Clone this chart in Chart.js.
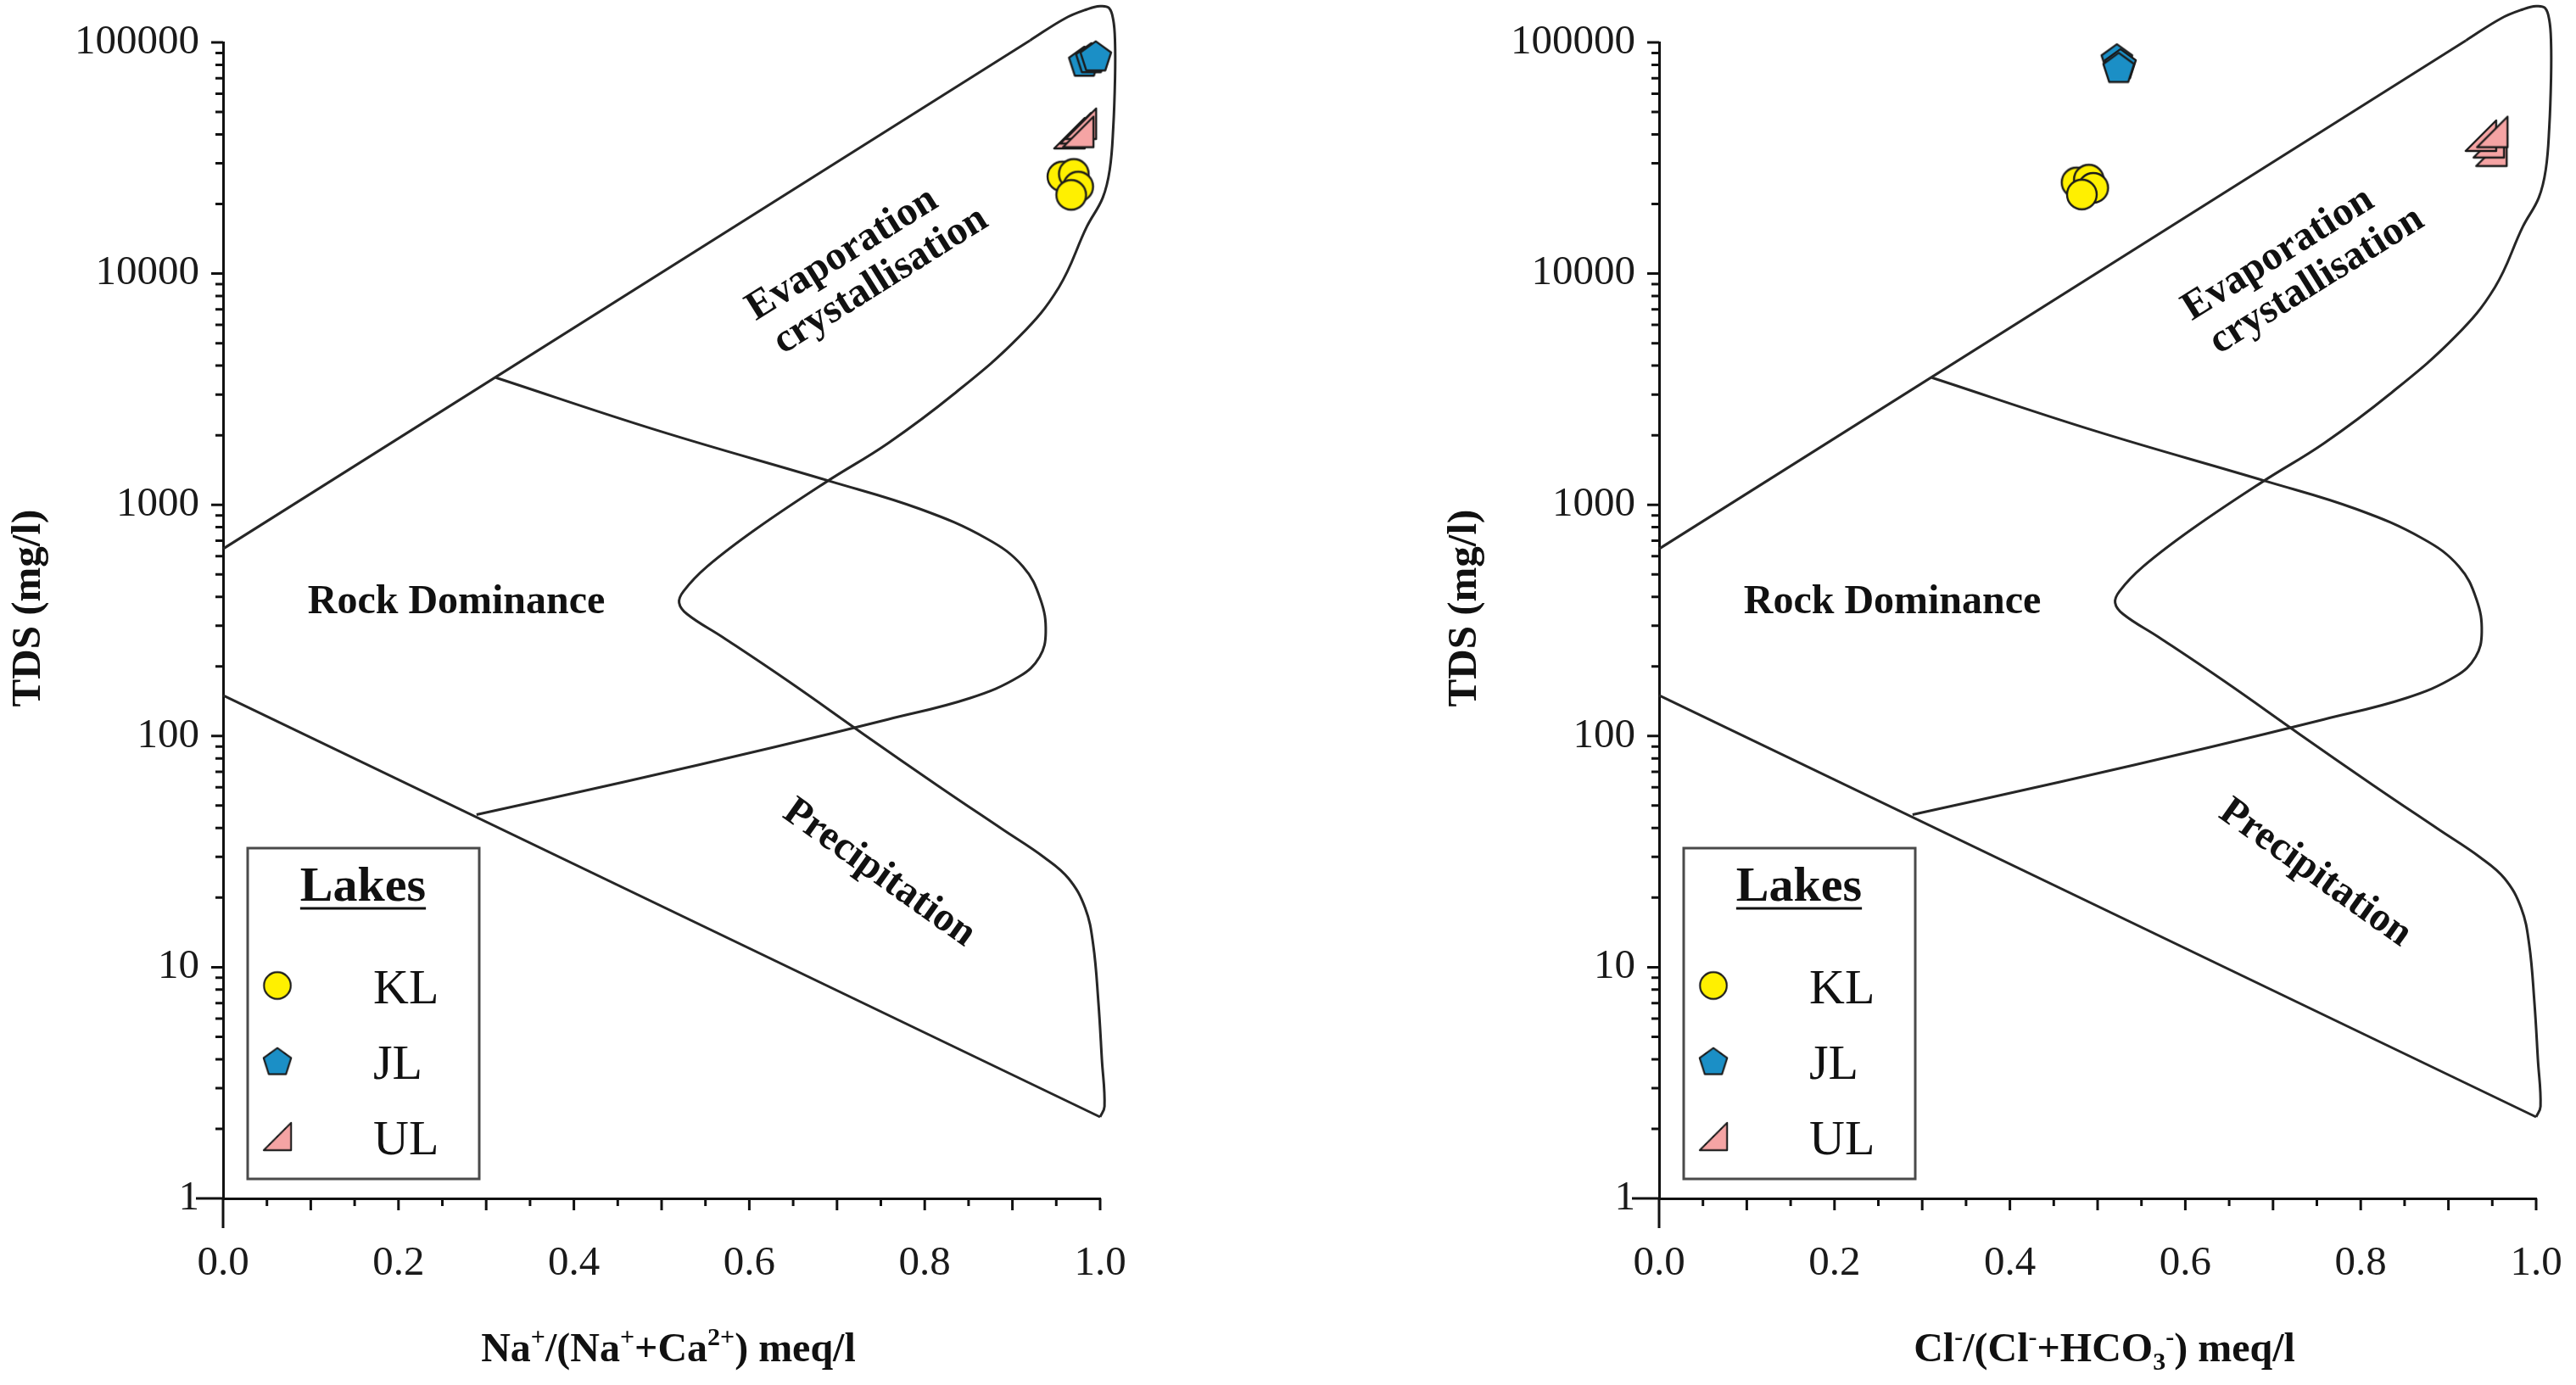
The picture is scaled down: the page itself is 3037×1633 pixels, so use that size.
<!DOCTYPE html>
<html lang="en">
<head>
<meta charset="UTF-8" />
<title>Gibbs diagram</title>
<script src="https://cdn.jsdelivr.net/npm/chart.js"></script>
<style>
  body { margin: 0; background: #fff; overflow: hidden; }
  canvas { position: absolute; top: 0; }
</style>
</head>
<body>
<canvas id="chartNa" width="1344" height="1633" style="left:0px"></canvas>
<canvas id="chartCl" width="1344" height="1633" style="left:1693px"></canvas>
<script>
const xTickValues = [0, 0.2, 0.4, 0.6, 0.8, 1.0];
const yTickValues = [1, 10, 100, 1000, 10000, 100000];
const lakes = ['KL', 'JL', 'UL'];

// Na+/(Na+ + Ca2+) panel
const naKL_x = [0.957, 0.970, 0.975, 0.967];
const naKL_y = [26300, 27000, 23800, 21900];
const naJL_x = [0.982, 0.990, 0.995];
const naJL_y = [83000, 86000, 87500];
const naUL_x = [0.965, 0.972, 0.978, 0.975];
const naUL_y = [40500, 42500, 44500, 41000];

// Cl-/(Cl- + HCO3-) panel
const clKL_x = [0.476, 0.490, 0.495, 0.482];
const clKL_y = [24800, 25500, 23500, 22000];
const clJL_x = [0.522, 0.526, 0.524];
const clJL_y = [85000, 81000, 78000];
const clUL_x = [0.949, 0.946, 0.937, 0.950];
const clUL_y = [34000, 37000, 39500, 41000];

// Gibbs field boundaries (same envelope on both panels)
const upperLineX = [0, 0.92];
const upperLineY = [645, 102000];
const outerCurveX = [0.92, 0.96, 0.985, 1.0, 1.01, 1.015, 1.017, 1.017, 1.015, 1.011, 1.003, 0.985, 0.953, 0.908, 0.833, 0.758, 0.689, 0.608, 0.552, 0.525, 0.520, 0.529, 0.570, 0.645, 0.730, 0.814, 0.889, 0.936, 0.964, 0.983, 0.992, 0.998, 1.002, 1.005, 1.0];
const outerCurveY = [102000, 127000, 139000, 143500, 141000, 125000, 100000, 70000, 43000, 28200, 21300, 16000, 8730, 5350, 3010, 1845, 1265, 787, 541, 423, 377, 337, 267, 172, 102, 61.3, 39.4, 29.9, 24.2, 18.0, 12.6, 7.08, 3.99, 2.5, 2.25];
const lowerLineX = [1.0, 0];
const lowerLineY = [2.25, 150];
const innerCurveX = [0.311, 0.495, 0.692, 0.795, 0.871, 0.912, 0.932, 0.938, 0.931, 0.908, 0.852, 0.758, 0.627, 0.458, 0.289];
const innerCurveY = [3550, 2100, 1265, 958, 713, 541, 390, 281, 220, 181, 146, 118, 89.3, 63.4, 45.7];

const serif = '"Liberation Serif", "Times New Roman", serif';
Chart.defaults.font.family = serif;

function pts(xs, ys) {
  return xs.map((x, i) => ({ x: x, y: ys[i] }));
}

function makeMarker(kind, size, fill) {
  const c = document.createElement('canvas');
  c.width = c.height = size + 6;
  const g = c.getContext('2d');
  const m = c.width / 2, r = size / 2;
  g.beginPath();
  if (kind === 'circle') {
    g.arc(m, m, r, 0, Math.PI * 2);
  } else if (kind === 'pentagon') {
    for (let i = 0; i < 5; i++) {
      const a = -Math.PI / 2 + i * 2 * Math.PI / 5;
      const px = m + r * Math.cos(a), py = m + r * Math.sin(a) + r * 0.1;
      if (i) g.lineTo(px, py); else g.moveTo(px, py);
    }
    g.closePath();
  } else {
    // right triangle, square corner at bottom right
    g.moveTo(m - r, m + r);
    g.lineTo(m + r, m + r);
    g.lineTo(m + r, m - r);
    g.closePath();
  }
  g.fillStyle = fill;
  g.fill();
  g.lineWidth = 2.4;
  g.lineJoin = 'round';
  g.strokeStyle = '#1b1b1b';
  g.stroke();
  return c;
}

const markers = {
  KL: makeMarker('circle', 35, '#fff000'),
  JL: makeMarker('pentagon', 38, '#1b8fc6'),
  UL: makeMarker('triangle', 36, '#f5a4a4')
};

function lineSet(xs, ys, tension) {
  return {
    data: pts(xs, ys), showLine: true, pointRadius: 0, borderColor: '#262626',
    borderWidth: 3, tension: tension, fill: false, clip: false
  };
}

function lakeSet(name, xs, ys) {
  return {
    label: name, data: pts(xs, ys), pointStyle: markers[name], pointRadius: 18,
    showLine: false, clip: false
  };
}

function drawRich(ctx, parts, cx, baseY, size) {
  const fontFor = t => 'bold ' + (t === 'n' ? size : Math.round(size * 0.62)) + 'px ' + serif;
  let total = 0;
  parts.forEach(([s, t]) => { ctx.font = fontFor(t); total += ctx.measureText(s).width; });
  let x = cx - total / 2;
  ctx.textAlign = 'left';
  ctx.textBaseline = 'alphabetic';
  parts.forEach(([s, t]) => {
    ctx.font = fontFor(t);
    const dy = t === 'sup' ? -size * 0.4 : t === 'sub' ? size * 0.2 : 0;
    ctx.fillText(s, x, baseY + dy);
    x += ctx.measureText(s).width;
  });
}

// ticks, axis titles, field names and the legend box
const decor = {
  id: 'decor',
  afterDraw(chart, args, opts) {
    const { ctx, chartArea: a, scales: { x, y } } = chart;
    ctx.save();
    ctx.strokeStyle = '#111';
    ctx.lineWidth = 3;
    ctx.beginPath();
    for (let i = 0; i <= 20; i++) {
      const px = x.getPixelForValue(i * 0.05);
      const len = i === 0 ? 35 : (i % 2 ? 9 : 14);
      ctx.moveTo(px, a.bottom);
      ctx.lineTo(px, a.bottom + len);
    }
    for (let d = 0; d < 5; d++) {
      for (let k = 1; k <= 9; k++) {
        const py = y.getPixelForValue(k * Math.pow(10, d));
        const len = k === 1 ? (d === 0 ? 32 : 14) : 9;
        ctx.moveTo(a.left - len, py);
        ctx.lineTo(a.left, py);
      }
    }
    const top = y.getPixelForValue(100000);
    ctx.moveTo(a.left - 14, top);
    ctx.lineTo(a.left, top);
    ctx.stroke();

    ctx.fillStyle = '#111';
    // axis titles
    drawRich(ctx, opts.xTitle, (a.left + a.right) / 2 + 8, 1605, 48);
    ctx.save();
    ctx.translate(34, 717);
    ctx.rotate(-Math.PI / 2);
    ctx.font = 'bold 49px ' + serif;
    ctx.textAlign = 'center';
    ctx.textBaseline = 'middle';
    ctx.fillText('TDS (mg/l)', 0, 0);
    ctx.restore();

    // field names
    opts.fields.forEach(f => {
      ctx.save();
      ctx.translate(x.getPixelForValue(f.x), y.getPixelForValue(f.y));
      ctx.rotate(f.angle * Math.PI / 180);
      ctx.font = 'bold 48px ' + serif;
      ctx.textAlign = 'center';
      ctx.textBaseline = 'middle';
      ctx.fillText(f.text, 0, 0);
      ctx.restore();
    });

    // legend
    const bx = a.left + 29, by = 1000, bw = 273, bh = 390;
    ctx.lineWidth = 3;
    ctx.strokeStyle = '#4a4a4a';
    ctx.strokeRect(bx, by, bw, bh);
    ctx.font = 'bold 58px ' + serif;
    ctx.textAlign = 'center';
    ctx.textBaseline = 'alphabetic';
    ctx.fillText('Lakes', bx + 136, by + 62);
    const tw = ctx.measureText('Lakes').width;
    ctx.strokeStyle = '#111';
    ctx.beginPath();
    ctx.moveTo(bx + 136 - tw / 2, by + 71);
    ctx.lineTo(bx + 136 + tw / 2, by + 71);
    ctx.stroke();
    ctx.font = '58px ' + serif;
    ctx.textAlign = 'left';
    lakes.forEach((name, i) => {
      const rowY = by + 162 + i * 89;
      const img = markers[name];
      const s = img.width * 0.9;
      ctx.drawImage(img, bx + 35 - s / 2, rowY - s / 2, s, s);
      ctx.fillText(name, bx + 148, rowY + 21);
    });
    ctx.restore();
  }
};

const fields = [
  { text: 'Rock Dominance', x: 0.266, y: 377, angle: 0 },
  { text: 'Evaporation', x: 0.706, y: 12100, angle: -32 },
  { text: 'crystallisation', x: 0.750, y: 9310, angle: -32 },
  { text: 'Precipitation', x: 0.748, y: 25.5, angle: 35.5 }
];

function noPad(s) {
  s.paddingLeft = 0; s.paddingRight = 0; s.paddingTop = 0; s.paddingBottom = 0;
}

function buildChart(id, kl, jl, ul, xTitle) {
  return new Chart(document.getElementById(id), {
    type: 'scatter',
    data: {
      datasets: [
        lakeSet('KL', kl[0], kl[1]),
        lakeSet('JL', jl[0], jl[1]),
        lakeSet('UL', ul[0], ul[1]),
        lineSet(upperLineX, upperLineY, 0),
        lineSet(outerCurveX, outerCurveY, 0.4),
        lineSet(lowerLineX, lowerLineY, 0),
        lineSet(innerCurveX, innerCurveY, 0.4)
      ]
    },
    options: {
      responsive: false,
      animation: false,
      layout: { padding: { top: 50, right: 47, left: 0, bottom: 0 } },
      plugins: {
        legend: { display: false },
        tooltip: { enabled: false },
        decor: { xTitle: xTitle, fields: fields }
      },
      scales: {
        x: {
          type: 'linear', min: 0, max: 1,
          afterBuildTicks: s => { s.ticks = xTickValues.map(v => ({ value: v })); },
          afterFit: s => { s.height = 220; noPad(s); },
          grid: { display: false, drawTicks: false },
          border: { display: true, color: '#111', width: 3 },
          ticks: {
            padding: 48, color: '#1a1a1a', maxRotation: 0, autoSkip: false,
            font: { family: serif, size: 49 },
            callback: v => Number(v).toFixed(1)
          }
        },
        y: {
          type: 'logarithmic', min: 1, max: 100000,
          afterBuildTicks: s => { s.ticks = yTickValues.map(v => ({ value: v })); },
          afterFit: s => { s.width = 263; noPad(s); },
          grid: { display: false, drawTicks: false },
          border: { display: true, color: '#111', width: 3 },
          ticks: {
            padding: 28, color: '#1a1a1a', autoSkip: false,
            font: { family: serif, size: 49 },
            callback: v => String(v)
          }
        }
      }
    },
    plugins: [decor]
  });
}

buildChart('chartNa', [naKL_x, naKL_y], [naJL_x, naJL_y], [naUL_x, naUL_y],
  [['Na', 'n'], ['+', 'sup'], ['/(Na', 'n'], ['+', 'sup'], ['+Ca', 'n'], ['2+', 'sup'], [') meq/l', 'n']]);
buildChart('chartCl', [clKL_x, clKL_y], [clJL_x, clJL_y], [clUL_x, clUL_y],
  [['Cl', 'n'], ['-', 'sup'], ['/(Cl', 'n'], ['-', 'sup'], ['+HCO', 'n'], ['3', 'sub'], ['-', 'sup'], [') meq/l', 'n']]);
</script>
</body>
</html>
